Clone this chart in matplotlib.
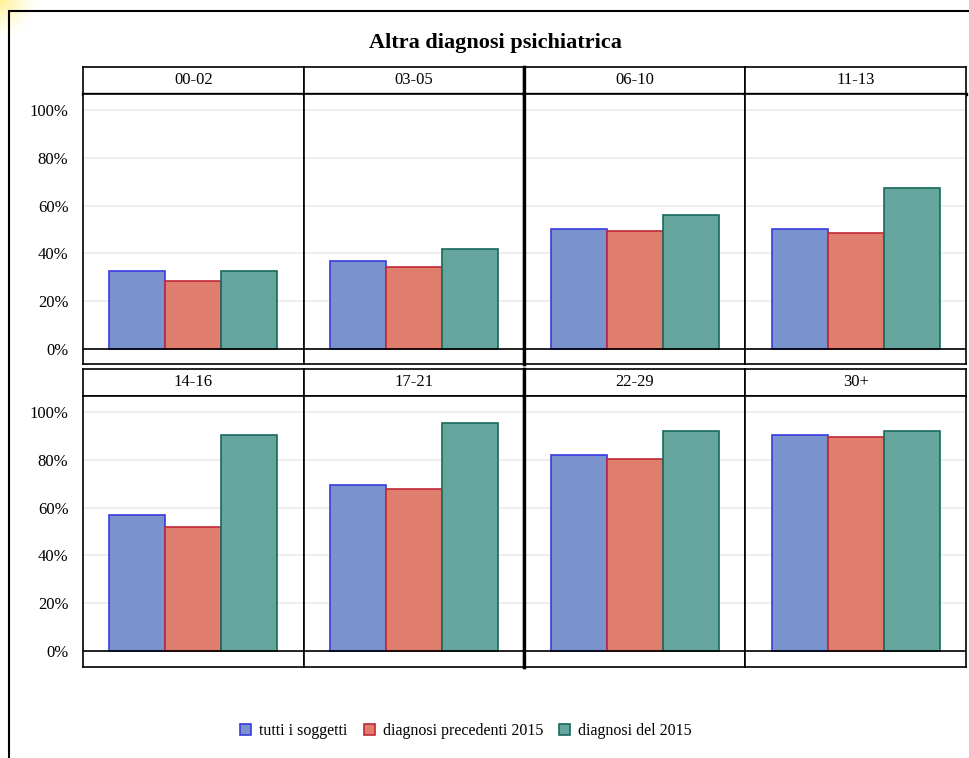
import matplotlib
matplotlib.use("Agg")
import matplotlib.pyplot as plt
import numpy as np
from matplotlib.patches import Rectangle, Patch

plt.rcParams['font.family'] = ['Liberation Serif', 'DejaVu Serif']

title = 'Altra diagnosi psichiatrica'
age_groups = ['00-02', '03-05', '06-10', '11-13', '14-16', '17-21', '22-29', '30+']
series_names = ['tutti i soggetti', 'diagnosi precedenti 2015', 'diagnosi del 2015']

# percentages per age group
tutti = [32.5, 36.8, 50.2, 50.2, 56.7, 69.5, 81.8, 90.4]
precedenti = [28.5, 34.3, 49.4, 48.7, 51.8, 67.7, 80.4, 89.5]
del_2015 = [32.5, 41.8, 56.0, 67.4, 90.4, 95.2, 92.2, 92.2]

fills = ['#7b93cc', '#e07e6e', '#66a59d']
edges = ['#3a3ae0', '#c02838', '#17695c']

W, H = 970, 758
fig = plt.figure(figsize=(W / 100, H / 100), dpi=100)


def box(x0, y0, x1, y1):
    # pixel box (top-left origin) -> figure fraction rect
    return [x0 / W, 1 - y1 / H, (x1 - x0) / W, (y1 - y0) / H]


# faint yellow glow in the top-left corner
gx = fig.add_axes(box(0, 0, 50, 50), zorder=-1)
yy, xx = np.mgrid[0:50, 0:50]
d = np.sqrt(xx ** 2 + yy ** 2) / 40.0
glow = np.zeros((50, 50, 4))
glow[..., 0] = 1.0
glow[..., 1] = 0.93
glow[..., 2] = 0.45
glow[..., 3] = np.clip(1 - d, 0, 1) ** 1.5 * 0.8
gx.imshow(glow, aspect='auto')
gx.axis('off')

# outer frame (right and bottom edges fall outside the image)
fig.patches.append(Rectangle((9 / W, -0.02), 1.02, 1 - 11 / H + 0.02,
                             transform=fig.transFigure, fill=False,
                             edgecolor='black', linewidth=1.5))

fig.text(495 / W, 1 - 43 / H, title, ha='center', va='center',
         fontsize=16, fontweight='bold')

left0, right0 = 83, 966
cw = (right0 - left0) / 4
head_top = [67, 369]
head_bot = [94, 396]
y100 = [110, 412]
zero = [349, 651]
bottom = [364, 667]

values = [tutti, precedenti, del_2015]
for i, grp in enumerate(age_groups):
    r, c = divmod(i, 4)
    x0 = left0 + c * cw
    x1 = x0 + cw
    ppu = (zero[r] - y100[r]) / 100.0

    hx = fig.add_axes(box(x0, head_top[r], x1, head_bot[r]))
    hx.set_xticks([])
    hx.set_yticks([])
    for s in hx.spines.values():
        s.set_linewidth(1.2)
    hx.spines['bottom'].set_linewidth(2.4 if r == 0 else 1.2)
    hx.text(0.5, 0.5, grp, ha='center', va='center', fontsize=12,
            transform=hx.transAxes)

    ax = fig.add_axes(box(x0, head_bot[r], x1, bottom[r]))
    ax.set_xlim(-0.97, 2.97)
    ax.set_ylim(-(bottom[r] - zero[r]) / ppu, 100 + (y100[r] - head_bot[r]) / ppu)
    for k in range(3):
        ax.bar(k, values[k][i], width=1.0, color=fills[k], edgecolor=edges[k],
               linewidth=1.2, zorder=3)
    ax.set_yticks([0, 20, 40, 60, 80, 100])
    ax.yaxis.grid(True, color='#ebebeb', linewidth=1.2, zorder=0)
    ax.axhline(0, color='black', linewidth=1.2, zorder=4)
    ax.set_xticks([])
    ax.tick_params(axis='y', length=0, pad=10.5, labelsize=12)
    if c == 0:
        ax.set_yticklabels([f'{v}%' for v in [0, 20, 40, 60, 80, 100]])
    else:
        ax.set_yticklabels([])
    for s in ax.spines.values():
        s.set_linewidth(1.2)
    if c == 2:
        ax.spines['left'].set_linewidth(2.4)
        hx.spines['left'].set_linewidth(2.4)
    if c == 1:
        ax.spines['right'].set_linewidth(2.4)
        hx.spines['right'].set_linewidth(2.4)

handles = [Patch(facecolor=fills[k], edgecolor=edges[k], linewidth=1.2,
                 label=series_names[k]) for k in range(3)]
fig.legend(handles=handles, loc='center', bbox_to_anchor=(466 / W, 1 - 731 / H),
           ncol=3, frameon=False, fontsize=11.5, handlelength=0.7,
           handleheight=0.7, handletextpad=0.5, columnspacing=1.0)

fig.savefig('out.png', dpi=100)
